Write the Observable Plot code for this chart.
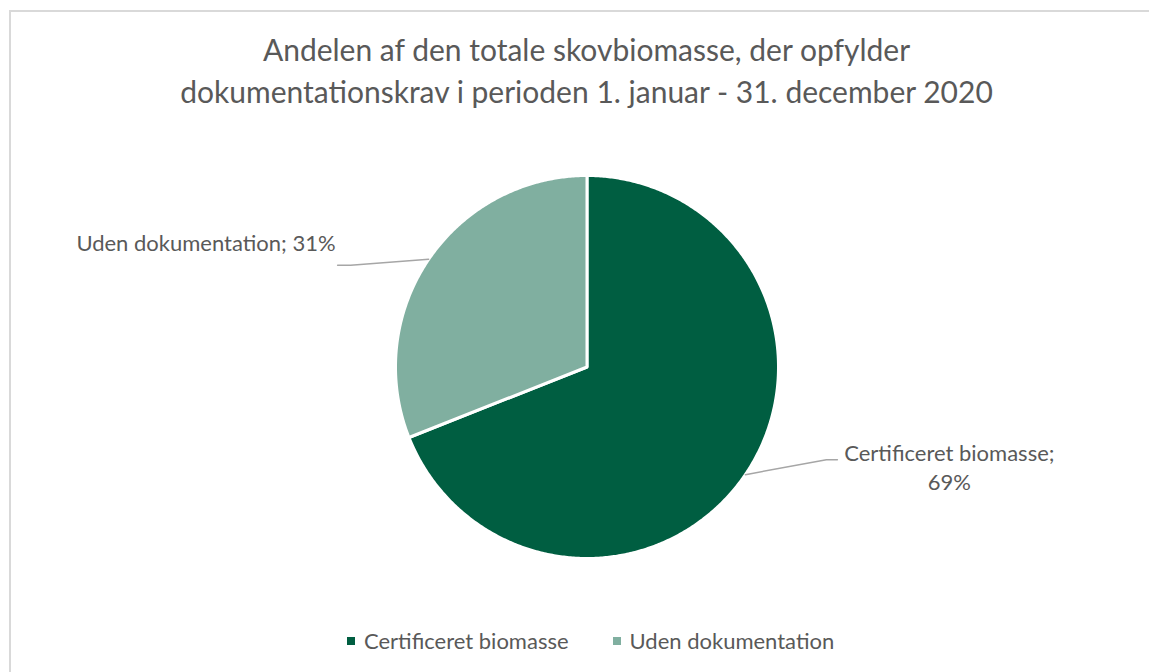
<!DOCTYPE html>
<html>
<head>
<meta charset="utf-8">
<script src="https://cdn.jsdelivr.net/npm/d3@7"></script>
<script src="https://cdn.jsdelivr.net/npm/@observablehq/plot@0.6"></script>
<style>
  html, body { margin: 0; padding: 0; background: #fff; overflow: hidden; width: 1149px; height: 672px; }
  #page { position: relative; width: 1149px; height: 672px; overflow: hidden; font-family: Lato, "Open Sans", sans-serif; color: #595959; }
  #frameTop { position: absolute; left: 9px; top: 10px; width: 1140px; height: 2px; background: #d9d9d9; }
  #frameLeft { position: absolute; left: 9px; top: 10px; width: 2px; height: 662px; background: #d9d9d9; }
  #title { position: absolute; left: 0; top: 28px; width: 1149px; padding-left: 24px; box-sizing: border-box; text-align: center; font-size: 30px; line-height: 42px; color: #595959; }
  #chart { position: absolute; left: 0; top: 120px; width: 1149px; height: 490px; }
  #legend { position: absolute; left: 347px; top: 627px; display: flex; align-items: center; font-size: 22px; color: #595959; white-space: nowrap; }
  .item { display: flex; align-items: center; }
  .sw { width: 8px; height: 8px; margin-right: 9px; }
</style>
</head>
<body>
<div id="page">
  <div id="frameTop"></div>
  <div id="frameLeft"></div>
  <div id="title">Andelen af den totale skovbiomasse, der opfylder<br>dokumentationskrav i perioden 1. januar - 31. december 2020</div>
  <div id="chart"></div>
  <div id="legend"></div>
</div>
<script>
// ---- data ----
const categories = ["Certificeret biomasse", "Uden dokumentation"];
const values = [69, 31];
const colors = ["#005E41", "#80AFA0"];

// ---- layout config (pixels) ----
const R = 191.5;
const labelOffsets = [[81, -15], [-78, 6]];   // edge point -> elbow
const tailLengths = [11, -13];                // elbow -> label end (horizontal)

const arcs = d3.pie().sort(null)(values);

// slice polygons
const slicePts = [];
arcs.forEach((a, i) => {
  const name = categories[i];
  slicePts.push({name, x: 0, y: 0});
  const n = Math.ceil((a.endAngle - a.startAngle) / (Math.PI / 360));
  for (let k = 0; k <= n; k++) {
    const t = a.startAngle + (a.endAngle - a.startAngle) * k / n;
    slicePts.push({name, x: Math.sin(t), y: -Math.cos(t)});
  }
});

// leader lines and label anchors
const leaderPts = [];
const labelRows = [];
arcs.forEach((a, i) => {
  const name = categories[i];
  const mid = (a.startAngle + a.endAngle) / 2;
  const ex = Math.sin(mid), ey = -Math.cos(mid);
  const bx = ex + labelOffsets[i][0] / R, by = ey + labelOffsets[i][1] / R;
  const tx = bx + tailLengths[i] / R;
  leaderPts.push({name, x: ex, y: ey}, {name, x: bx, y: by}, {name, x: tx, y: by});
  labelRows.push({name, x: tx, y: by, value: values[i]});
});

const chart = Plot.plot({
  width: 1149,
  height: 490,
  margin: 0,
  x: {domain: [-1, 1], range: [586.5 - R, 586.5 + R], axis: null},
  y: {domain: [-1, 1], range: [246.5 - R, 246.5 + R], axis: null},
  color: {domain: categories, range: colors},
  style: {background: "transparent"},
  marks: [
    Plot.line(slicePts, {x: "x", y: "y", z: "name", fill: "name", stroke: "white", strokeWidth: 3, curve: "linear-closed"}),
    Plot.line(leaderPts, {x: "x", y: "y", z: "name", stroke: "#a6a6a6", strokeWidth: 1.5}),
    Plot.text(labelRows.filter(d => d.name === categories[0]), {
      x: "x", y: "y", text: d => `${d.name};\n${d.value}%`,
      textAnchor: "middle", lineAnchor: "middle", lineHeight: 1.3,
      dx: 112, dy: 7, fontSize: 22, fill: "#595959", fontFamily: "Lato"
    }),
    Plot.text(labelRows.filter(d => d.name === categories[1]), {
      x: "x", y: "y", text: d => `${d.name}; ${d.value}%`,
      textAnchor: "end", lineAnchor: "middle",
      dx: -2, dy: -21, fontSize: 22, fill: "#595959", fontFamily: "Lato"
    })
  ]
});
document.getElementById("chart").appendChild(chart);

// legend
const legend = document.getElementById("legend");
categories.forEach((c, i) => {
  const item = document.createElement("div");
  item.className = "item";
  if (i > 0) item.style.marginLeft = "44px";
  const sw = document.createElement("span");
  sw.className = "sw";
  sw.style.background = colors[i];
  const tx = document.createElement("span");
  tx.textContent = c;
  item.appendChild(sw); item.appendChild(tx);
  legend.appendChild(item);
});
</script>
</body>
</html>
